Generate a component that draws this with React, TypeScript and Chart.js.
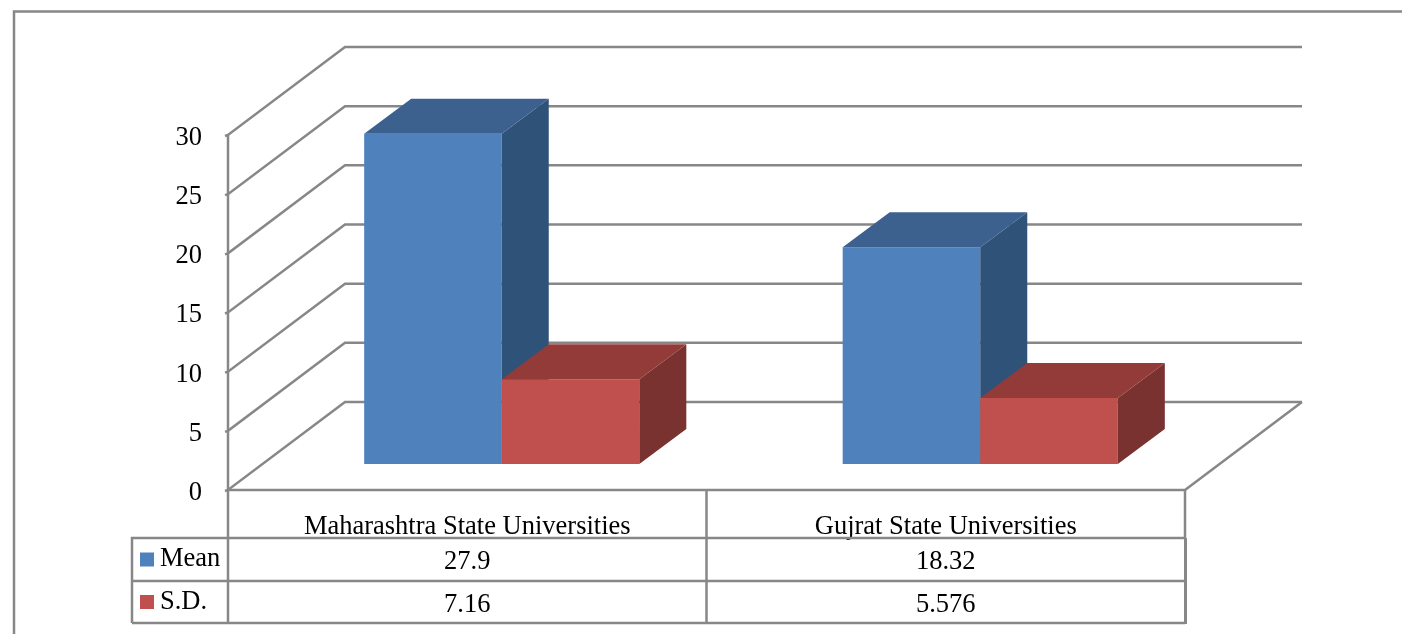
import React, { useEffect, useRef } from "react";
import { Chart, registerables } from "chart.js";

Chart.register(...registerables);

const categories = ["Maharashtra State Universities", "Gujrat State Universities"];
const seriesNames = ["Mean", "S.D."];
const meanValues = [27.9, 18.32];
const sdValues = [7.16, 5.576];
const frontColors = ["#4F81BD", "#C0504D"];
const topColors = ["#3C618F", "#933B39"];
const sideColors = ["#2F5279", "#7A3230"];

const GRID = "#878787";
const FONT = '"Liberation Serif", "Times New Roman", serif';
const FONT_SIZE = 26.5;
const WALL_DX = 117;
const WALL_DY = 88;
const BAR_DX = 34.5;
const BAR_DY = 26;
const DEPTH_DX = 47;
const DEPTH_DY = 35;
const ROWS = [538, 581, 623];
const TABLE_LEFT = 132;

const line = (ctx: CanvasRenderingContext2D, pts: number[][], width = 2.5) => {
  ctx.beginPath();
  pts.forEach(([x, y], i) => (i ? ctx.lineTo(x, y) : ctx.moveTo(x, y)));
  ctx.lineWidth = width;
  ctx.strokeStyle = GRID;
  ctx.stroke();
};

const poly = (ctx: CanvasRenderingContext2D, pts: number[][], fill: string) => {
  ctx.beginPath();
  pts.forEach(([x, y], i) => (i ? ctx.lineTo(x, y) : ctx.moveTo(x, y)));
  ctx.closePath();
  ctx.fillStyle = fill;
  ctx.fill();
};

const scene3d = {
  id: "scene3d",
  beforeDatasetsDraw(chart: any) {
    const { ctx, chartArea: a, scales } = chart;
    const yS = scales.y;
    const base = yS.getPixelForValue(0);
    ctx.save();
    // chart frame
    line(ctx, [[14, 634], [14, 11.5], [1402, 11.5]]);
    // back wall and side wall
    yS.ticks.forEach((t: any) => {
      const y = yS.getPixelForValue(t.value);
      line(ctx, [[a.left - 3, y + 1], [a.left, y], [a.left + WALL_DX, y - WALL_DY], [a.left + WALL_DX + 957, y - WALL_DY]]);
    });
    // floor
    line(ctx, [[a.left, base], [a.right, base], [a.right + WALL_DX, base - WALL_DY]]);
    // axis line and table verticals
    line(ctx, [[a.left, a.top], [a.left, ROWS[2]]]);
    const mid = (a.left + a.right) / 2;
    line(ctx, [[mid, base], [mid, ROWS[2]]]);
    line(ctx, [[a.right, base], [a.right, ROWS[0]]]);
    line(ctx, [[a.right + 0.5, ROWS[0]], [a.right + 0.5, ROWS[2] + 1]], 3);
    // table rows and legend cell
    line(ctx, [[TABLE_LEFT, ROWS[2]], [TABLE_LEFT, ROWS[0]], [a.right, ROWS[0]]]);
    line(ctx, [[TABLE_LEFT, ROWS[1]], [a.right, ROWS[1]]]);
    line(ctx, [[TABLE_LEFT, ROWS[2]], [a.right, ROWS[2]]]);
    // table contents
    ctx.font = `${FONT_SIZE}px ${FONT}`;
    ctx.textBaseline = "middle";
    chart.data.datasets.forEach((ds: any, i: number) => {
      const cy = (ROWS[i] + ROWS[i + 1]) / 2 + 1;
      ctx.fillStyle = ds.backgroundColor;
      ctx.fillRect(140, cy - 8, 14, 14);
      ctx.fillStyle = "#000";
      ctx.textAlign = "left";
      ctx.fillText(ds.label, 160, cy - 1);
      ctx.textAlign = "center";
      ds.data.forEach((v: number, j: number) => {
        ctx.fillText(String(v), scales.x.getPixelForValue(j), cy + 2);
      });
    });
    ctx.restore();
  },
  // the default drawing order would put the first series on top; it is drawn below, left to right
  beforeDatasetDraw() {
    return false;
  },
  afterDatasetsDraw(chart: any) {
    const { ctx } = chart;
    chart.data.datasets.forEach((_: any, i: number) => {
      const meta = chart.getDatasetMeta(i);
      ctx.save();
      ctx.translate(BAR_DX, -BAR_DY);
      meta.controller.draw();
      meta.data.forEach((bar: any) => {
        const { x, y, base, width } = bar.getProps(["x", "y", "base", "width"], true);
        const l = x - width / 2;
        const r = x + width / 2;
        poly(ctx, [[r, y], [r + DEPTH_DX, y - DEPTH_DY], [r + DEPTH_DX, base - DEPTH_DY], [r, base]], sideColors[i]);
        poly(ctx, [[l, y], [l + DEPTH_DX, y - DEPTH_DY], [r + DEPTH_DX, y - DEPTH_DY], [r, y]], topColors[i]);
      });
      ctx.restore();
    });
  },
};

export default function App() {
  const ref = useRef<HTMLCanvasElement | null>(null);

  useEffect(() => {
    const chart = new Chart(ref.current as HTMLCanvasElement, {
      type: "bar",
      data: {
        labels: categories,
        datasets: [
          { label: seriesNames[0], data: meanValues, backgroundColor: frontColors[0] },
          { label: seriesNames[1], data: sdValues, backgroundColor: frontColors[1] },
        ],
      },
      options: {
        responsive: false,
        animation: false,
        layout: { padding: { left: 128, right: 217, top: 135, bottom: 10 } },
        plugins: { legend: { display: false }, tooltip: { enabled: false }, title: { display: false } },
        datasets: { bar: { barPercentage: 1, categoryPercentage: 0.575, borderWidth: 0 } },
        scales: {
          x: {
            grid: { display: false },
            border: { display: false },
            afterFit: (s: any) => { s.height = 134; },
            ticks: {
              color: "#000",
              font: { family: FONT, size: FONT_SIZE },
              maxRotation: 0,
              autoSkip: false,
              padding: 13,
            },
          },
          y: {
            min: 0,
            max: 30,
            grid: { display: false, drawTicks: false },
            border: { display: false },
            afterFit: (s: any) => { s.width = 100; },
            ticks: {
              stepSize: 5,
              color: "#000",
              font: { family: FONT, size: FONT_SIZE },
              padding: 26,
              labelOffset: 3,
            },
          },
        },
      },
      plugins: [scene3d],
    } as any);
    return () => chart.destroy();
  }, []);

  return (
    <canvas
      ref={ref}
      width={1402}
      height={634}
      style={{ position: "fixed", left: 0, top: 0, display: "block", background: "#fff" }}
    />
  );
}
